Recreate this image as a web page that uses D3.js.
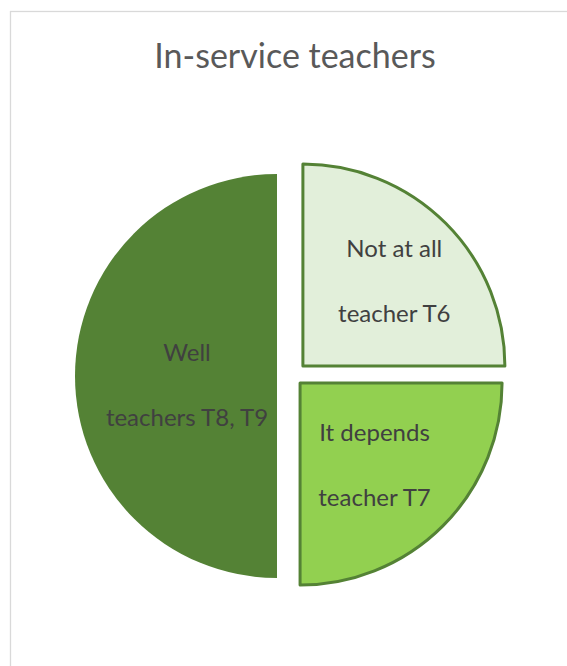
<!DOCTYPE html>
<html>
<head>
<meta charset="utf-8">
<script src="https://cdn.jsdelivr.net/npm/d3@7"></script>
<style>
  html, body { margin: 0; padding: 0; background: #fff; }
  svg { display: block; }
</style>
</head>
<body>
<svg id="chart" width="567" height="666"></svg>
<script>
// data
const categories = ["Not at all", "It depends", "Well"];
const values = [1, 1, 2];
const teachers = ["teacher T6", "teacher T7", "teachers T8, T9"];
const chartTitle = "In-service teachers";

// looks
const colors = ["#e2efda", "#92d050", "#548235"];
const strokes = ["#548235", "#548235", "none"];
const explode = [14, 10, 16];
const labelR = [125, 118, 90];
const labelShift = [[3, 3], [-9, -2], [0, 9]];

const width = 567, height = 666;
const cx = 293, cy = 376, r = 202;

const svg = d3.select("#chart");

// chart area border
svg.append("rect")
  .attr("x", 10.5).attr("y", 11.5)
  .attr("width", 600).attr("height", 700)
  .attr("fill", "#fff")
  .attr("stroke", "#d9d9d9")
  .attr("stroke-width", 1.3);

svg.append("text")
  .attr("x", 295).attr("y", 68)
  .attr("text-anchor", "middle")
  .attr("font-family", "Lato, 'Open Sans', sans-serif")
  .attr("font-size", 34)
  .attr("fill", "#595959")
  .text(chartTitle);

const pie = d3.pie().sort(null).value(d => d);
const arcs = pie(values);
const arc = d3.arc().innerRadius(0).outerRadius(r);

const g = svg.append("g").attr("transform", `translate(${cx},${cy})`);

const slice = g.selectAll("g.slice")
  .data(arcs)
  .join("g")
  .attr("class", "slice")
  .attr("transform", (d, i) => {
    const a = (d.startAngle + d.endAngle) / 2;
    return `translate(${Math.sin(a) * explode[i]},${-Math.cos(a) * explode[i]})`;
  });

slice.append("path")
  .attr("d", arc)
  .attr("fill", (d, i) => colors[i])
  .attr("stroke", (d, i) => strokes[i])
  .attr("stroke-width", 3)
  .attr("stroke-linejoin", "round");

const lbl = slice.append("text")
  .attr("text-anchor", "middle")
  .attr("font-family", "Lato, 'Open Sans', sans-serif")
  .attr("font-size", 24)
  .attr("fill", "#404040")
  .attr("transform", (d, i) => {
    const c = d3.arc().innerRadius(labelR[i]).outerRadius(labelR[i]).centroid(d);
    return `translate(${c[0] + labelShift[i][0]},${c[1] + labelShift[i][1]})`;
  });

lbl.append("tspan").attr("x", 0).attr("y", -24).text((d, i) => categories[i]);
lbl.append("tspan").attr("x", 0).attr("y", 41).text((d, i) => teachers[i]);
</script>
</body>
</html>
